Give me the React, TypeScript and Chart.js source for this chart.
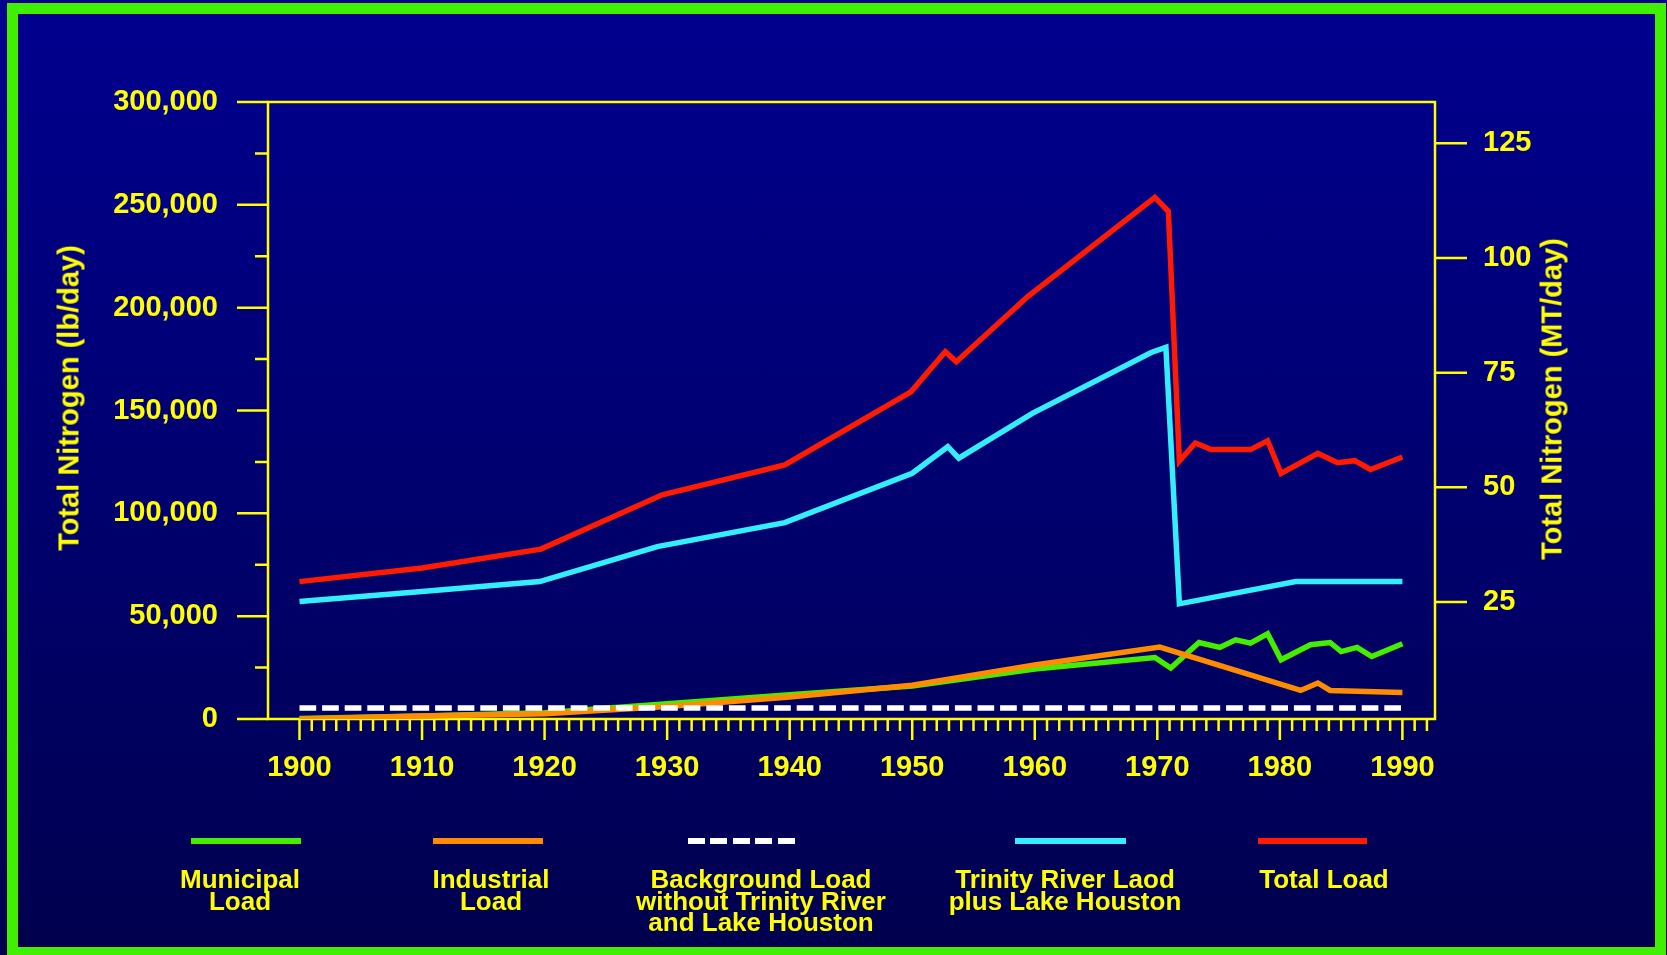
import React, { useEffect, useRef } from 'react';
import { Chart, registerables } from 'chart.js';

Chart.register(...registerables);

const FONT = '"Liberation Sans", Arial, Helvetica, sans-serif';
const YELLOW = '#ffff00';

// Axis tick values
const yearTickLabels = [1900, 1910, 1920, 1930, 1940, 1950, 1960, 1970, 1980, 1990];
const lbTickValues = [0, 50000, 100000, 150000, 200000, 250000, 300000];
const mtTickValues = [25, 50, 75, 100, 125];

// Series (x = year, y = lb/day)
const municipalYears = [1900, 1910, 1920, 1930, 1940, 1950, 1960, 1969.8, 1971.1, 1973.4, 1975.1, 1976.4, 1977.6, 1979.0, 1980.1, 1982.5, 1984.1, 1985.0, 1986.3, 1987.5, 1990];
const municipalLoad = [300, 1500, 3000, 7400, 11800, 16000, 24300, 29900, 24800, 37200, 34800, 38500, 36900, 41400, 28800, 36100, 37200, 32800, 34800, 30400, 36600];

const industrialYears = [1900, 1910, 1920, 1930, 1940, 1950, 1960, 1970.2, 1981.7, 1983.1, 1984.1, 1990];
const industrialLoad = [0, 1400, 2600, 6100, 10700, 16400, 26300, 35000, 13900, 17500, 13900, 12900];

const backgroundYears = [1900, 1990];
const backgroundLoad = [5350, 5350];

const trinityYears = [1900, 1910, 1919.6, 1929.2, 1939.6, 1950, 1952.9, 1953.8, 1959.8, 1969.5, 1970.7, 1971.8, 1981.3, 1990];
const trinityLoad = [57100, 62000, 66800, 83800, 95500, 119500, 132400, 126800, 148600, 178200, 180700, 56000, 66800, 66800];

const totalYears = [1900, 1910, 1919.7, 1929.6, 1939.6, 1949.9, 1952.7, 1953.6, 1959.4, 1969.8, 1970.9, 1971.8, 1973.1, 1974.4, 1977.6, 1979.0, 1980.1, 1983.1, 1984.7, 1986.1, 1987.4, 1990];
const totalLoad = [66800, 73400, 82600, 109000, 123500, 159100, 178600, 173700, 205300, 253600, 246900, 125400, 134200, 131000, 131000, 135300, 119400, 129200, 124600, 125600, 121300, 127400];

const legendItems = [
  { label: ['Municipal', 'Load'], color: '#44ee00', dashed: false, x: 191, w: 110, cx: 240 },
  { label: ['Industrial', 'Load'], color: '#ff8c00', dashed: false, x: 433, w: 110, cx: 491 },
  { label: ['Background Load', 'without Trinity River', 'and Lake Houston'], color: '#ffffff', dashed: true, x: 688, w: 109, cx: 761 },
  { label: ['Trinity River Laod', 'plus Lake Houston'], color: '#33eeff', dashed: false, x: 1015, w: 111, cx: 1065 },
  { label: ['Total Load'], color: '#ff1a00', dashed: false, x: 1258, w: 109, cx: 1324 },
];

const toPoints = (xs: number[], ys: number[]) => xs.map((x, i) => ({ x, y: ys[i] }));

const axisDecor = {
  id: 'axisDecor',
  beforeDatasetsDraw(chart: any) {
    const { ctx, chartArea: a, scales } = chart;
    ctx.save();
    ctx.strokeStyle = YELLOW;
    ctx.lineWidth = 2.5;
    ctx.lineCap = 'butt';
    ctx.strokeRect(a.left, a.top, a.right - a.left, a.bottom - a.top);
    ctx.beginPath();
    const maxLb = lbTickValues[lbTickValues.length - 1];
    for (let v = 0; v <= maxLb; v += 25000) {
      const y = scales.y.getPixelForValue(v);
      const len = lbTickValues.includes(v) ? 31 : 13;
      ctx.moveTo(a.left - len, y);
      ctx.lineTo(a.left, y);
    }
    for (const v of mtTickValues) {
      const y = scales.y2.getPixelForValue(v);
      ctx.moveTo(a.right, y);
      ctx.lineTo(a.right + 32, y);
    }
    for (let yr = yearTickLabels[0]; yr <= 1992; yr++) {
      const x = scales.x.getPixelForValue(yr);
      const len = yearTickLabels.includes(yr) ? 21 : 12;
      ctx.moveTo(x, a.bottom);
      ctx.lineTo(x, a.bottom + len);
    }
    ctx.stroke();
    ctx.restore();
  },
};

function NitrogenChart() {
  const ref = useRef<HTMLCanvasElement | null>(null);
  useEffect(() => {
    if (!ref.current) return;
    Chart.defaults.font.family = FONT;
    const line = (label: string, xs: number[], ys: number[], color: string, order: number, dash?: number[]) => ({
      label,
      data: toPoints(xs, ys),
      borderColor: color,
      backgroundColor: color,
      borderWidth: 5.5,
      pointRadius: 0,
      tension: 0,
      fill: false,
      order,
      borderDash: dash || [],
      borderCapStyle: 'butt' as const,
      yAxisID: 'y',
    });
    const chart = new Chart(ref.current, {
      type: 'line',
      data: {
        datasets: [
          line('Municipal Load', municipalYears, municipalLoad, '#44ee00', 4),
          line('Industrial Load', industrialYears, industrialLoad, '#ff8c00', 3),
          line('Background Load without Trinity River and Lake Houston', backgroundYears, backgroundLoad, '#ffffff', 0, [16.7, 5.9]),
          line('Trinity River Laod plus Lake Houston', trinityYears, trinityLoad, '#33eeff', 2),
          line('Total Load', totalYears, totalLoad, '#ff1a00', 1),
        ],
      },
      options: {
        responsive: false,
        animation: false,
        devicePixelRatio: 1,
        layout: { padding: { top: 102, left: 0, right: 0, bottom: 0 } },
        plugins: { legend: { display: false }, tooltip: { enabled: false } },
        scales: {
          x: {
            type: 'linear',
            min: 1897.43,
            max: 1992.66,
            grid: { display: false },
            border: { display: false },
            afterBuildTicks: (s: any) => { s.ticks = yearTickLabels.map((v) => ({ value: v })); },
            afterFit: (s: any) => { s.height = 236; },
            ticks: {
              autoSkip: false,
              maxRotation: 0,
              color: YELLOW,
              padding: 24,
              font: { size: 29, weight: 'bold' },
              callback: (v: any) => String(v),
            },
          },
          y: {
            type: 'linear',
            position: 'left',
            min: 0,
            max: 300000,
            grid: { display: false },
            border: { display: false },
            afterBuildTicks: (s: any) => { s.ticks = lbTickValues.map((v) => ({ value: v })); },
            afterFit: (s: any) => { s.width = 268; },
            ticks: {
              color: YELLOW,
              padding: 42,
              font: { size: 29, weight: 'bold' },
              callback: (v: any) => Number(v).toLocaleString('en-US'),
            },
          },
          y2: {
            type: 'linear',
            position: 'right',
            min: -0.5,
            max: 134,
            grid: { display: false },
            border: { display: false },
            afterBuildTicks: (s: any) => { s.ticks = mtTickValues.map((v) => ({ value: v })); },
            afterFit: (s: any) => { s.width = 232; },
            ticks: {
              color: YELLOW,
              padding: 40,
              font: { size: 29, weight: 'bold' },
              callback: (v: any) => String(v),
            },
          },
        },
      } as any,
      plugins: [axisDecor],
    });
    return () => chart.destroy();
  }, []);
  return <canvas ref={ref} width={1667} height={955} style={{ position: 'absolute', left: 0, top: 0, width: 1667, height: 955 }} />;
}

export default function App() {
  useEffect(() => {
    document.body.style.margin = '0';
  }, []);
  const titleStyle = (cx: number, cy: number): React.CSSProperties => ({
    position: 'absolute',
    left: cx,
    top: cy,
    transform: 'translate(-50%, -50%) rotate(-90deg)',
    whiteSpace: 'nowrap',
    font: `bold 29px ${FONT}`,
    lineHeight: '29px',
    color: YELLOW,
  });
  return (
    <div
      style={{
        position: 'absolute',
        left: 0,
        top: 0,
        width: 1667,
        height: 955,
        overflow: 'hidden',
        background: 'linear-gradient(to bottom, #00008f 0%, #000070 50%, #00004e 100%)',
        fontFamily: FONT,
      }}
    >
      <NitrogenChart />
      <div style={titleStyle(69, 398)}>Total Nitrogen (lb/day)</div>
      <div style={titleStyle(1552, 399)}>Total Nitrogen (MT/day)</div>
      {legendItems.map((it, i) => (
        <React.Fragment key={i}>
          <div
            style={{
              position: 'absolute',
              left: it.x,
              top: 838,
              width: it.w,
              height: 6,
              background: it.dashed
                ? `repeating-linear-gradient(to right, ${it.color} 0px, ${it.color} 17px, transparent 17px, transparent 22.5px)`
                : it.color,
            }}
          />
          <div
            style={{
              position: 'absolute',
              left: it.cx - 200,
              width: 400,
              top: 869,
              textAlign: 'center',
              font: `bold 26px ${FONT}`,
              lineHeight: '21.7px',
              color: YELLOW,
              whiteSpace: 'nowrap',
            }}
          >
            {it.label.map((l, j) => (
              <div key={j}>{l}</div>
            ))}
          </div>
        </React.Fragment>
      ))}
      <div
        style={{
          position: 'absolute',
          left: 7,
          top: 3,
          width: 1659,
          height: 955,
          border: '11px solid #3ff000',
          boxSizing: 'border-box',
          pointerEvents: 'none',
        }}
      />
    </div>
  );
}
